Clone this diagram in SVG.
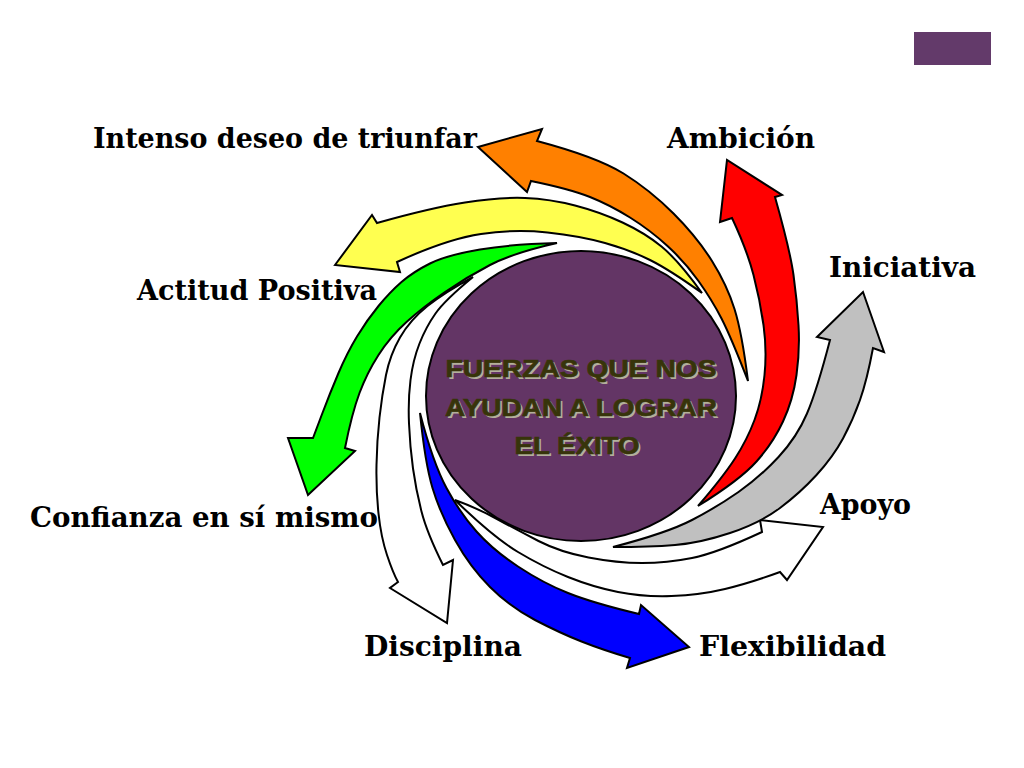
<svg xmlns="http://www.w3.org/2000/svg" width="1024" height="768" viewBox="0 0 1024 768">
<style>
.arr{stroke:#000;stroke-width:2;stroke-linejoin:miter}
.lbl{font-family:"DejaVu Serif","Liberation Serif",serif;font-weight:bold;font-size:28px;fill:#000}
.ct{font-family:"Liberation Sans",Arial,sans-serif;font-weight:bold;font-size:23px;text-anchor:middle}
.sh{fill:#b4b09c}
.fg{fill:#37340a;stroke:#37340a;stroke-width:0.6}
</style>
<rect width="1024" height="768" fill="#fff"/>
<rect id="corner" x="914" y="32" width="77" height="33" fill="#633a6a"/>
<g id="connectors">
<path id="a-orange" class="arr" fill="#ff8000" d="M478,147 L542,129 L537,141 Q597,157 623.5,173.5 Q650,190 673.5,213.5 Q697,237 712,261 Q727,285 734.5,309 Q742,333 748,381 Q731,337 721.5,318.5 Q712,300 698.5,281 Q685,262 667.5,246 Q650,230 630,217.5 Q610,205 590,197 Q570,189 531,181 L527,192 Z"/>
<path id="a-yellow" class="arr" fill="#ffff50" d="M335,265 L372,215 L377,223 Q430,208 465,202.5 Q500,197 525,198 Q550,199 575,205.5 Q600,212 622.5,222.5 Q645,233 661.5,246.5 Q678,260 702,293 Q670,270 650,260 Q630,250 605,243 Q580,236 547.5,232.5 Q515,229 481,234 Q447,239 397,262 L400,272 Z"/>
<path id="a-green" class="arr" fill="#00ff00" d="M557,243 Q513,244 480,249.5 Q447,255 430,263.5 Q413,272 401.5,282 Q390,292 378.5,306 Q367,320 357,336.5 Q347,353 338.5,373 Q330,393 321.5,415.5 L313,438 L288,438 L308,495 L355,451 L345,448 Q352,413 359.5,393 Q367,373 378.5,355 Q390,337 406.5,322 Q423,307 445,292 Q467,277 490,265 Q513,253 557,243 Z"/>
<path id="a-white1" class="arr" fill="#fff" d="M473,277 Q445,292 427.5,306 Q410,320 400,337.5 Q390,355 386,375 Q382,395 379.5,417.5 Q377,440 376.5,465 Q376,490 378.5,513.5 Q381,537 387,555 Q393,573 398,582 L390,588 L447,623 L453,560 L443,565 Q427,533 421.5,511.5 Q416,490 413,468.5 Q410,447 409,423.5 Q408,400 410.5,380 Q413,360 419.5,343.5 Q426,327 435.5,313.5 Q445,300 473,277 Z"/>
<path id="a-blue" class="arr" fill="#0000ff" d="M420,413 Q425,463 432.5,488 Q440,513 455,540 Q470,567 490,587 Q510,607 535,620 Q560,633 581.5,641.5 Q603,650 630,658 L627,668 L689,647 L641,605 L639,614 Q593,603 568,593 Q543,583 518,566.5 Q493,550 476.5,531.5 Q460,513 446.5,488 Q433,463 420,413 Z"/>
<path id="a-white2" class="arr" fill="#fff" d="M455,500 Q493,537 518,552 Q543,567 568,577 Q593,587 618,592 Q643,597 671.5,596 Q700,595 725,589 Q750,583 780,572 L787,580 L823,527 L760,520 L762,532 Q717,553 692,558 Q667,563 642,563 Q617,563 588.5,557.5 Q560,552 538.5,541 Q517,530 497,519 Q477,508 455,500 Z"/>
<path id="a-grey" class="arr" fill="#c0c0c0" d="M613,547 Q650,547 675,545 Q700,543 730,533 Q760,523 780,508 Q800,493 816.5,475 Q833,457 843,438.5 Q853,420 860,400 Q867,380 873,348 L884,352 L863,292 L817,337 L830,340 Q817,390 807,413.5 Q797,437 778.5,457 Q760,477 738.5,492 Q717,507 692,520 Q667,533 613,547 Z"/>
<path id="a-red" class="arr" fill="#ff0000" d="M698,506 Q723,477 735,458.5 Q747,440 754.5,420 Q762,400 764.5,375 Q767,350 763.5,325 Q760,300 753.5,275 Q747,250 732,218 L720,222 L727,160 L782,195 L775,197 Q790,250 793.5,275 Q797,300 798.5,325 Q800,350 796.5,375 Q793,400 783,421.5 Q773,443 756.5,461.5 Q740,480 698,506 Z"/>
</g>
<g id="center">
<ellipse cx="581" cy="396" rx="155" ry="145" fill="#633565" stroke="#000" stroke-width="2"/>
<g class="ct sh" transform="translate(2,2)">
<text x="581" y="377" textLength="271" lengthAdjust="spacingAndGlyphs">FUERZAS QUE NOS</text>
<text x="581" y="416" textLength="272" lengthAdjust="spacingAndGlyphs">AYUDAN A LOGRAR</text>
<text x="577" y="454" textLength="125" lengthAdjust="spacingAndGlyphs">EL ÉXITO</text>
</g>
<g class="ct fg">
<text x="581" y="377" textLength="271" lengthAdjust="spacingAndGlyphs">FUERZAS QUE NOS</text>
<text x="581" y="416" textLength="272" lengthAdjust="spacingAndGlyphs">AYUDAN A LOGRAR</text>
<text x="577" y="454" textLength="125" lengthAdjust="spacingAndGlyphs">EL ÉXITO</text>
</g>
</g>
<g id="labels">
<text id="l-intenso" class="lbl" x="93" y="148" textLength="384" lengthAdjust="spacingAndGlyphs">Intenso deseo de triunfar</text>
<text id="l-ambicion" class="lbl" x="667" y="148" textLength="148" lengthAdjust="spacingAndGlyphs">Ambición</text>
<text id="l-iniciativa" class="lbl" x="829" y="277" textLength="147" lengthAdjust="spacingAndGlyphs">Iniciativa</text>
<text id="l-actitud" class="lbl" x="137" y="300" textLength="240" lengthAdjust="spacingAndGlyphs">Actitud Positiva</text>
<text id="l-confianza" class="lbl" x="30" y="527" textLength="348" lengthAdjust="spacingAndGlyphs">Confianza en sí mismo</text>
<text id="l-apoyo" class="lbl" x="820" y="514" textLength="91" lengthAdjust="spacingAndGlyphs">Apoyo</text>
<text id="l-disciplina" class="lbl" x="364" y="656" textLength="158" lengthAdjust="spacingAndGlyphs">Disciplina</text>
<text id="l-flex" class="lbl" x="699" y="656" textLength="187" lengthAdjust="spacingAndGlyphs">Flexibilidad</text>
</g>
</svg>
